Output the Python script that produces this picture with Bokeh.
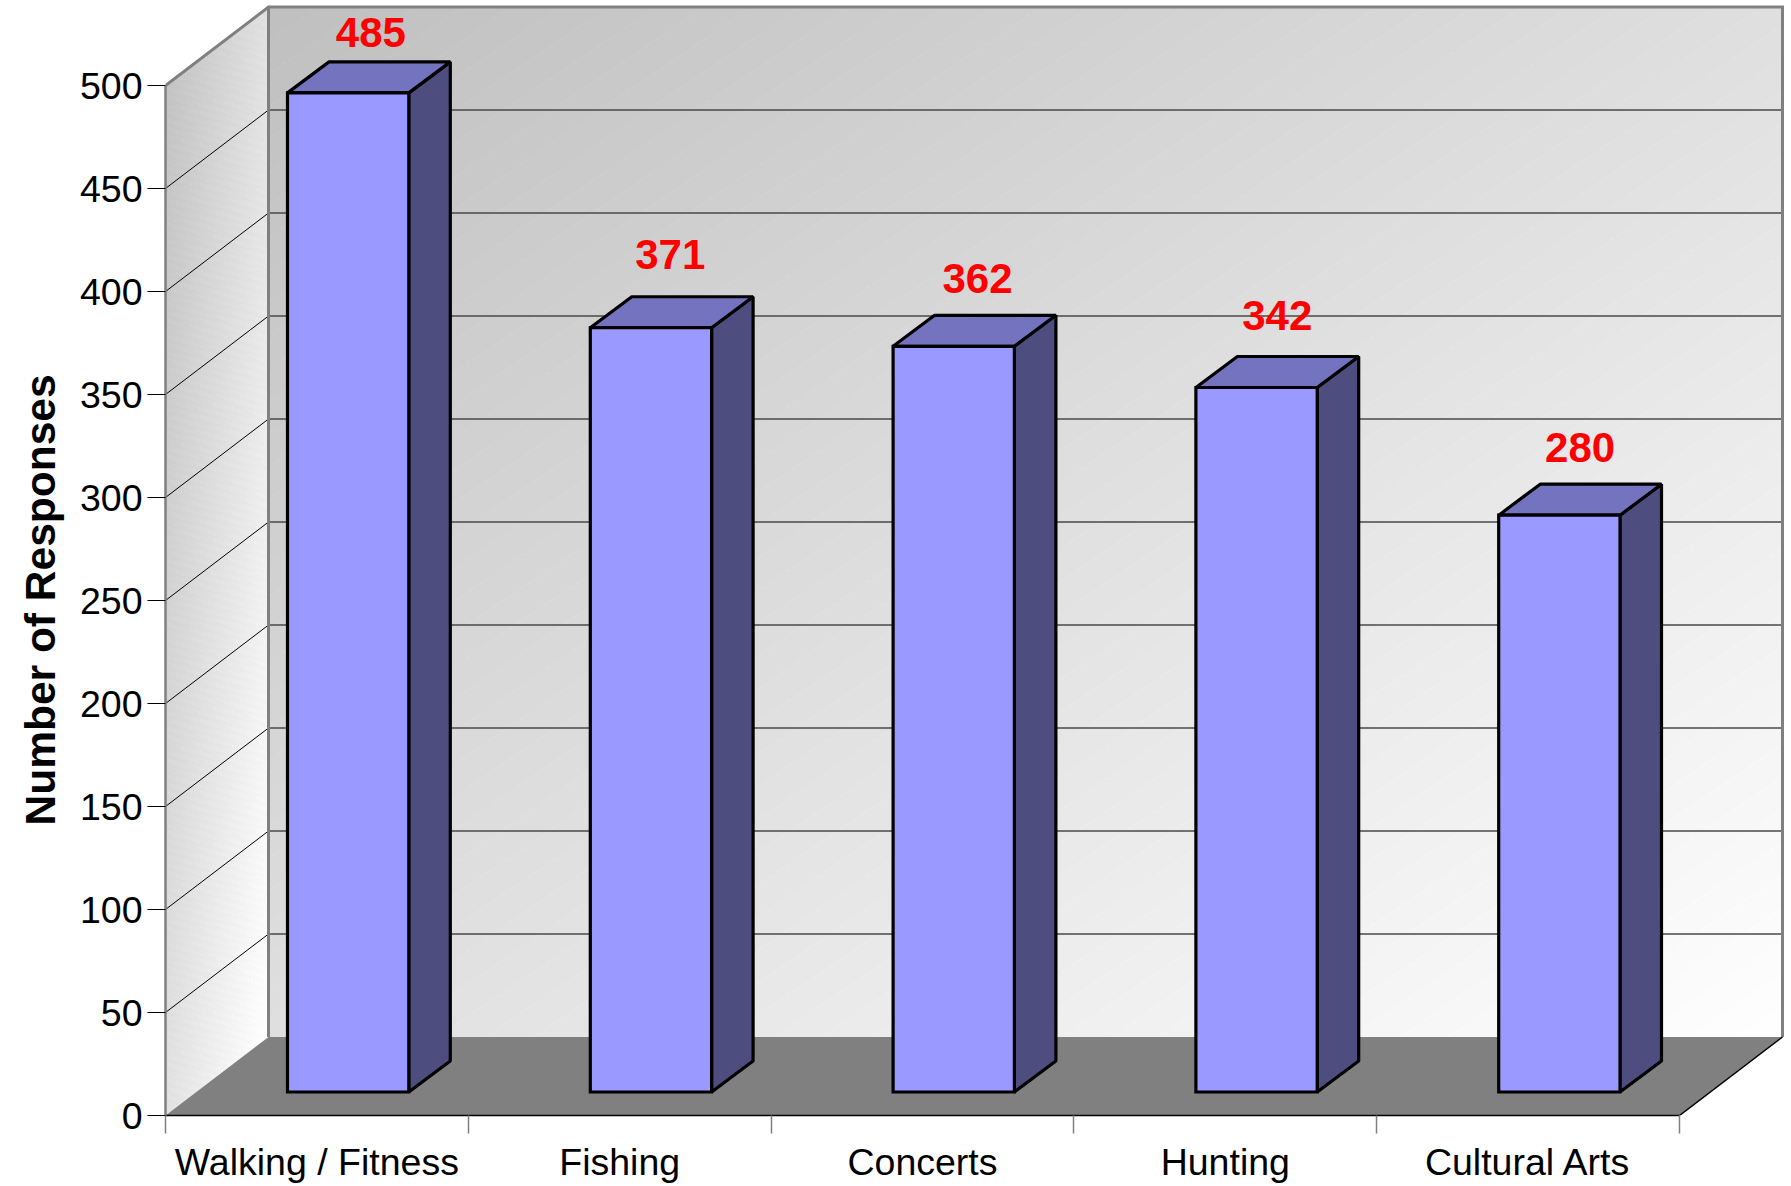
import numpy as np
from bokeh.plotting import figure
from bokeh.models import FixedTicker, Range1d, Title
from bokeh.core.properties import value
from bokeh.embed import file_html
from bokeh.resources import INLINE

categories = ["Walking / Fitness", "Fishing", "Concerts", "Hunting", "Cultural Arts"]
responses = [485, 371, 362, 342, 280]
y_ticks = [0, 50, 100, 150, 200, 250, 300, 350, 400, 450, 500]

# hand placement of the value labels above each bar (screen px)
label_nudge_x = [2, -1.5, 3, 0, 0]
label_nudge_y = [-29, -42, -37, -41, -37]

FONT = "Liberation Sans"
CAT_PX = 302.8      # px per category
VAL_PX = 2.06       # px per response
WALL_DX = 103 / CAT_PX
WALL_DY = 78.5 / VAL_PX
BAR_L = 122 / CAT_PX
BAR_W = 121.3 / CAT_PX
BAR_DX = 41.5 / CAT_PX
BAR_DY = 31 / VAL_PX
BAR_BASE = 23.5 / VAL_PX
N = len(categories)
Y_MAX = max(y_ticks)
TOP = Y_MAX + WALL_DY
RIGHT = N + WALL_DX

p = figure(width=1791, height=1186, output_backend="svg", toolbar_location=None,
           x_range=Range1d(0, 1620 / CAT_PX), y_range=Range1d(0, 1115 / VAL_PX),
           min_border_left=165, min_border_right=6, min_border_top=0, min_border_bottom=71,
           background_fill_color="white", border_fill_color="white", outline_line_color=None)
p.grid.visible = False


def band_image(w, h, low, spread, seam_step, seam_gain, dash, dash_on):
    """stepped diagonal wall shading, image row 0 is at the bottom"""
    u = (np.arange(w) + 0.5) / w
    v = 1 - (np.arange(h) + 0.5) / h
    uu, vv = np.meshgrid(u, v)
    t = (uu + vv) / 2
    lvl = np.floor(t * spread) + low
    phase = (t * spread) % 1
    xx, yy = np.meshgrid(np.arange(w), np.arange(h))
    seam = (phase < seam_step) & ((xx + yy) % dash < dash_on)
    lvl = np.clip(lvl + seam * seam_gain, 0, 255).astype(np.uint32)
    return lvl


# back wall
w_b, h_b = 1515, 1029
lvl = band_image(w_b, h_b, 192, 63, 1 / 47, 6, 3, 2)
img = (255 << 24) | (lvl << 16) | (lvl << 8) | lvl
p.image_rgba(image=[img], x=WALL_DX, y=WALL_DY, dw=w_b / CAT_PX, dh=h_b / VAL_PX)

# side wall: same shading, sheared into the slanted wall
w_s, h_s = 103, 1108
s_base = band_image(w_s, 1030, 194, 61, 0.28, 7, 8, 5)
s_lvl = np.zeros((h_s, w_s), dtype=np.uint32)
for c in range(w_s):
    shear = int(round((c + 0.5) / w_s * 78))
    s_lvl[shear:shear + 1030, c] = s_base[:, c]
alpha = np.where(s_lvl > 0, 255, 0).astype(np.uint32)
s_img = (alpha << 24) | (s_lvl << 16) | (s_lvl << 8) | s_lvl
p.image_rgba(image=[s_img], x=0, y=0, dw=w_s / CAT_PX, dh=h_s / VAL_PX)

# gridlines
for t in y_ticks[1:-1]:
    p.line([WALL_DX, RIGHT], [t + WALL_DY, t + WALL_DY], line_color="#484848", line_width=1.5)
    p.line([0, WALL_DX], [t, t + WALL_DY], line_color="black", line_width=1)

# wall borders
edge = dict(line_color="#808080", line_width=3, line_join="miter")
p.line([0, WALL_DX, RIGHT, RIGHT], [Y_MAX, TOP, TOP, WALL_DY], **edge)
p.line([WALL_DX, WALL_DX], [WALL_DY, TOP], **edge)

# floor
p.patch([0, WALL_DX, RIGHT, N], [0, WALL_DY, WALL_DY, 0], fill_color="#808080", line_color=None)
p.line([N, RIGHT], [0, WALL_DY], line_color="black", line_width=1.5)

# bars
xl = [i + BAR_L for i in range(N)]
xr = [x + BAR_W for x in xl]
y0 = [BAR_BASE] * N
y1 = [BAR_BASE + r for r in responses]
outline = dict(line_color="black", line_width=3.2)
p.patches([[r, r + BAR_DX, r + BAR_DX, r] for r in xr],
          [[b, b + BAR_DY, t + BAR_DY, t] for b, t in zip(y0, y1)],
          fill_color="#4D4D80", line_join="bevel", **outline)
p.patches([[l, l + BAR_DX, r + BAR_DX, r] for l, r in zip(xl, xr)],
          [[t, t + BAR_DY, t + BAR_DY, t] for t in y1],
          fill_color="#7373BF", line_join="bevel", **outline)
p.quad(left=xl, right=xr, bottom=y0, top=y1, fill_color="#9999FF", line_join="miter", **outline)

# value labels
p.text(x=[l + (BAR_W + BAR_DX) / 2 for l in xl], y=[t + BAR_DY for t in y1],
       text=[str(r) for r in responses], x_offset=label_nudge_x, y_offset=label_nudge_y,
       text_color="#FF0000", text_font=value(FONT), text_font_style="bold",
       text_font_size="42px", text_align="center", text_baseline="middle")

# axes
ya = p.yaxis[0]
ya.ticker = FixedTicker(ticks=y_ticks)
ya.bounds = (0, Y_MAX)
ya.axis_line_color = "#808080"
ya.axis_line_width = 2.5
ya.major_tick_line_color = "black"
ya.major_tick_line_width = 1.2
ya.major_tick_in = 0
ya.major_tick_out = 18
ya.minor_tick_line_color = None
ya.major_label_standoff = 5
ya.major_label_text_font = FONT
ya.major_label_text_font_size = "37.5px"
ya.major_label_text_color = "black"

xa = p.xaxis[0]
xa.ticker = FixedTicker(ticks=[i + 0.5 for i in range(N)], minor_ticks=list(range(N + 1)))
xa.major_label_overrides = {i + 0.5: c for i, c in enumerate(categories)}
xa.bounds = (0, N)
xa.axis_line_color = "black"
xa.axis_line_width = 1.5
xa.major_tick_line_color = None
xa.major_tick_in = 0
xa.major_tick_out = 0
xa.minor_tick_line_color = "#808080"
xa.minor_tick_line_width = 1.5
xa.minor_tick_in = 0
xa.minor_tick_out = 18
xa.major_label_standoff = 7
xa.major_label_text_font = FONT
xa.major_label_text_font_size = "37.5px"
xa.major_label_text_color = "black"

p.add_layout(Title(text="Number of Responses", align="left", offset=290, standoff=26,
                   text_font=FONT, text_font_style="bold", text_font_size="42.5px",
                   text_color="black"), "left")

open("out.html", "w").write(file_html(p, INLINE))
